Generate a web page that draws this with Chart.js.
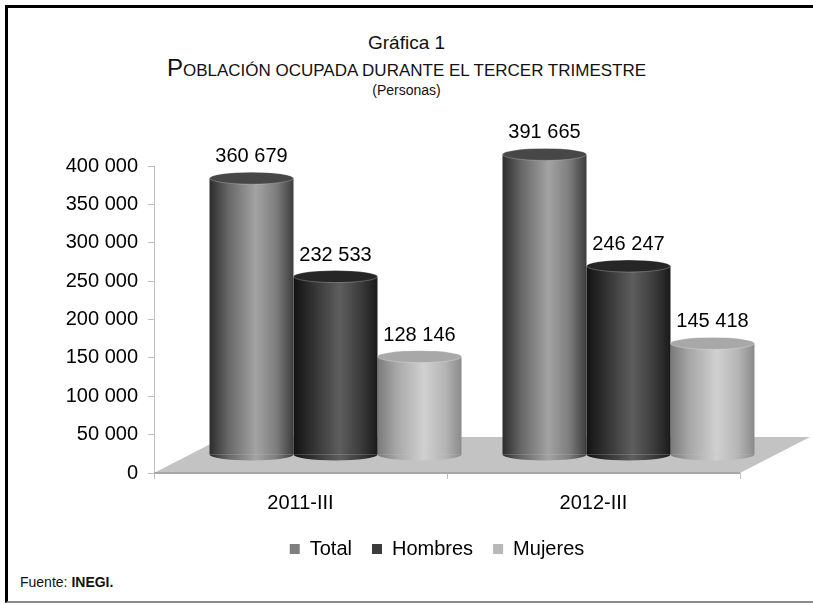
<!DOCTYPE html>
<html lang="es">
<head>
<meta charset="utf-8">
<title>Población ocupada durante el tercer trimestre</title>
<script src="https://cdn.jsdelivr.net/npm/chart.js@4.4.0/dist/chart.umd.min.js"></script>
<style>
  html, body { margin: 0; padding: 0; background: #fff; overflow: hidden; }
  body { font-family: 'Liberation Sans', Arial, sans-serif; color: #111; }
  #marco { position: absolute; left: 5px; top: 5px; width: 820px; height: 593px;
           border-left: 3px solid #000; border-top: 3px solid #000; border-bottom: 2px solid #8c8c8c; }
  #caja { position: absolute; left: 0; top: 0; width: 813px; height: 605px; }
  .titulo { position: absolute; left: 0; width: 813px; text-align: center; white-space: nowrap; }
  #t1 { top: 32px; font-size: 19px; }
  #t2 { top: 55px; line-height: 26px; }
  #t2 .may { font-size: 24px; }
  #t2 .peq { font-size: 17px; }
  #t3 { top: 82px; font-size: 14px; }
  #fuente { position: absolute; left: 20px; top: 574px; font-size: 14px; }
</style>
</head>
<body>
<div id="marco"></div>
<div class="titulo" id="t1">Gráfica 1</div>
<div class="titulo" id="t2"><span class="may">P</span><span class="peq">OBLACIÓN OCUPADA DURANTE EL TERCER TRIMESTRE</span></div>
<div class="titulo" id="t3">(Personas)</div>
<div id="fuente">Fuente: <b>INEGI.</b></div>
<div id="caja"><canvas id="grafica"></canvas></div>
<script>
// datos de la grafica
var categorias = ["2011-III", "2012-III"];
var series = ["Total", "Hombres", "Mujeres"];
var total = [360679, 391665];
var hombres = [232533, 246247];
var mujeres = [128146, 145418];
var ejeMin = 0;
var ejeMax = 400000;
var ejePaso = 50000;

// estilo
var solidos = ["#7f7f7f", "#3c3c3c", "#b8b8b8"];
var tonos = [
  ["#2c2c2c", "#666666", "#a3a3a3", "#7c7c7c", "#3c3c3c"],
  ["#121212", "#303030", "#5e5e5e", "#3c3c3c", "#1a1a1a"],
  ["#7a7a7a", "#a6a6a6", "#d0d0d0", "#b6b6b6", "#8a8a8a"]
];
var tapas = ["#474747", "#262626", "#a8a8a8"];
var PCT_CAT = 0.86;
var PROF_X = 70, PROF_Y = -36; // fondo del piso
var RY = 6; // radio vertical de las elipses

Chart.defaults.font.family = "'Liberation Sans', Arial, sans-serif";
Chart.defaults.color = "#000";

function formato(v) {
  return String(v).replace(/\B(?=(\d{3})+(?!\d))/g, " ");
}

function gradiente(ctx, izq, der, paradas) {
  var g = ctx.createLinearGradient(izq, 0, der, 0);
  var pos = [0, 0.22, 0.55, 0.8, 1];
  for (var k = 0; k < paradas.length; k++) {
    g.addColorStop(pos[k], paradas[k]);
  }
  return g;
}

function fondo(i) {
  return function (c) {
    if (c.type !== "data") return solidos[i];
    var xs = c.chart.scales.x;
    if (!xs || !xs.width) return solidos[i];
    var anchoCat = xs.width / categorias.length;
    var anchoBarra = anchoCat * PCT_CAT / series.length;
    var centro = xs.getPixelForValue(c.dataIndex);
    var izq = centro - anchoCat * PCT_CAT / 2 + i * anchoBarra;
    return gradiente(c.chart.ctx, izq, izq + anchoBarra, tonos[i]);
  };
}

var cilindros = {
  id: "cilindros",
  beforeDatasetsDraw: function (chart) {
    var ctx = chart.ctx;
    var a = chart.chartArea;
    // piso
    ctx.save();
    ctx.beginPath();
    ctx.moveTo(a.left, a.bottom);
    ctx.lineTo(a.right, a.bottom);
    ctx.lineTo(a.right + PROF_X, a.bottom + PROF_Y);
    ctx.lineTo(a.left + PROF_X, a.bottom + PROF_Y);
    ctx.closePath();
    ctx.fillStyle = "#c3c3c3";
    ctx.fill();
    ctx.strokeStyle = "#a8a8a8";
    ctx.lineWidth = 2;
    ctx.beginPath();
    ctx.moveTo(a.left, a.bottom);
    ctx.lineTo(a.right, a.bottom);
    ctx.stroke();
    ctx.restore();
    // las barras van a media profundidad
    ctx.save();
    ctx.translate(PROF_X / 2, PROF_Y / 2);
  },
  afterDatasetsDraw: function (chart) {
    var ctx = chart.ctx;
    chart.data.datasets.forEach(function (ds, i) {
      var meta = chart.getDatasetMeta(i);
      meta.data.forEach(function (barra, j) {
        var rx = barra.width / 2;
        var izq = barra.x - rx;
        // base redonda
        ctx.beginPath();
        ctx.ellipse(barra.x, barra.base, rx, RY, 0, 0, Math.PI);
        ctx.fillStyle = gradiente(ctx, izq, izq + barra.width, tonos[i]);
        ctx.fill();
        // tapa
        ctx.beginPath();
        ctx.ellipse(barra.x, barra.y, rx, RY, 0, 0, 2 * Math.PI);
        ctx.fillStyle = tapas[i];
        ctx.fill();
        ctx.strokeStyle = "rgba(255,255,255,0.25)";
        ctx.lineWidth = 1;
        ctx.stroke();
        // etiqueta
        ctx.fillStyle = "#000";
        ctx.font = "20px 'Liberation Sans', Arial, sans-serif";
        ctx.textAlign = "center";
        ctx.textBaseline = "alphabetic";
        ctx.fillText(formato(ds.data[j]), barra.x, barra.y - 16);
      });
    });
    ctx.restore();
  }
};

var ctx = document.getElementById("grafica").getContext("2d");
var myChart = new Chart(ctx, {
  type: "bar",
  data: {
    labels: categorias,
    datasets: [
      { label: series[0], data: total, backgroundColor: fondo(0), borderWidth: 0 },
      { label: series[1], data: hombres, backgroundColor: fondo(1), borderWidth: 0 },
      { label: series[2], data: mujeres, backgroundColor: fondo(2), borderWidth: 0 }
    ]
  },
  options: {
    responsive: true,
    maintainAspectRatio: false,
    animation: false,
    datasets: { bar: { barPercentage: 1, categoryPercentage: PCT_CAT } },
    layout: { padding: { top: 166, left: 61, right: 0, bottom: 36 } },
    plugins: {
      legend: {
        position: "bottom",
        labels: {
          boxWidth: 10,
          boxHeight: 10,
          padding: 20,
          font: { size: 20 },
          color: "#000",
          generateLabels: function (chart) {
            var items = Chart.defaults.plugins.legend.labels.generateLabels(chart);
            items.forEach(function (it) {
              it.fillStyle = solidos[it.datasetIndex];
              it.strokeStyle = solidos[it.datasetIndex];
              it.lineWidth = 0;
            });
            return items;
          }
        }
      },
      tooltip: { enabled: false }
    },
    scales: {
      x: {
        grid: { drawOnChartArea: false, drawTicks: true, tickLength: 6, color: "#bdbdbd" },
        border: { display: false },
        ticks: { font: { size: 20 }, color: "#000", padding: 12 },
        afterFit: function (s) { s.height = 46; }
      },
      y: {
        min: ejeMin,
        max: ejeMax,
        ticks: {
          stepSize: ejePaso,
          font: { size: 20 },
          color: "#000",
          padding: 10,
          callback: function (v) { return formato(v); }
        },
        grid: { drawOnChartArea: false, tickLength: 6, color: "#bfbfbf" },
        border: { color: "#bfbfbf" },
        afterFit: function (s) { s.width = 93; }
      },
      y2: {
        position: "right",
        grid: { display: false },
        border: { display: false },
        ticks: { display: false },
        afterFit: function (s) { s.width = 73; }
      }
    }
  },
  plugins: [cilindros]
});
</script>
</body>
</html>
